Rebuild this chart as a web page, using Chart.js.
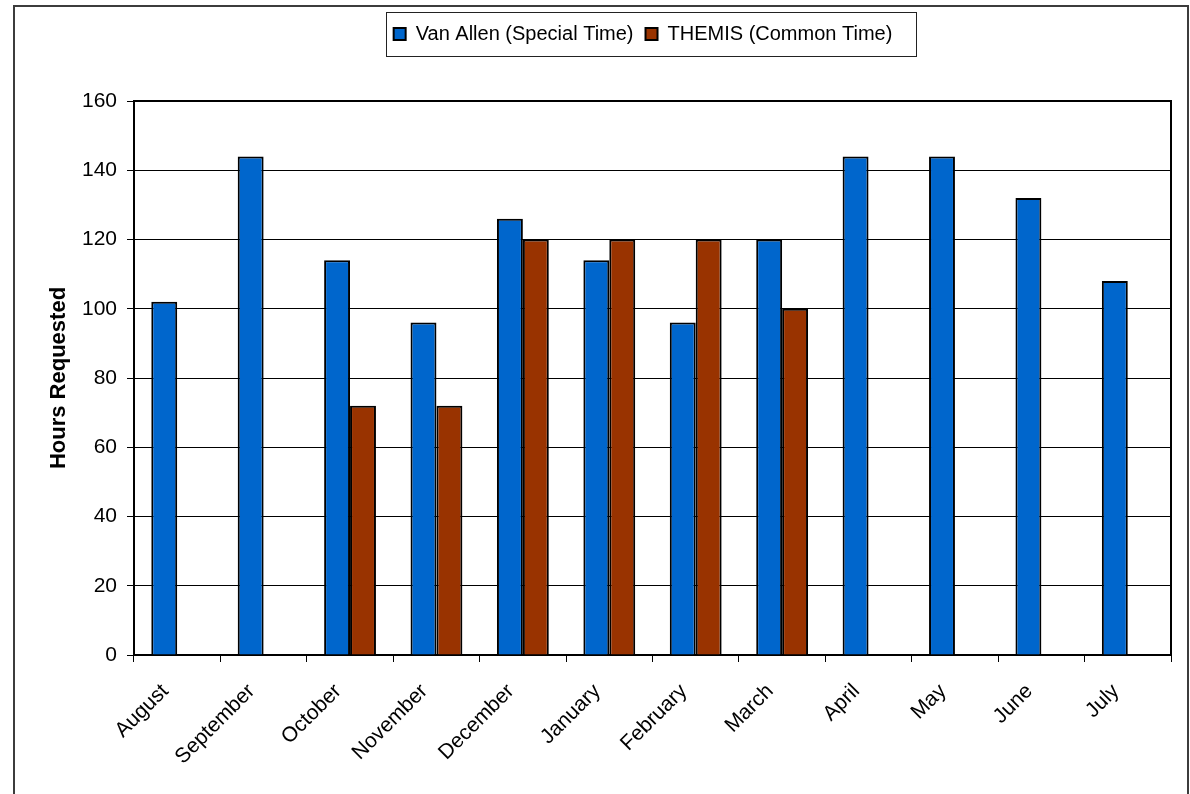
<!DOCTYPE html>
<html>
<head>
<meta charset="utf-8">
<script src="https://cdn.jsdelivr.net/npm/chart.js@4.4.1/dist/chart.umd.min.js"></script>
<style>
  html, body { margin: 0; padding: 0; background: #fff; }
  canvas { display: block; }
</style>
</head>
<body>
<canvas id="hours" width="1190" height="794"></canvas>
<script>
// Monthly requested hours per mission
const months = ['August', 'September', 'October', 'November', 'December', 'January',
                'February', 'March', 'April', 'May', 'June', 'July'];
const vanAllenHours = [102, 144, 114, 96, 126, 114, 96, 120, 144, 144, 132, 108];
const themisHours   = [null, null, 72, 72, 120, 120, 120, 100, null, null, null, null];
const seriesNames = ['Van Allen (Special Time)', 'THEMIS (Common Time)'];
const yAxisTitle = 'Hours Requested';
const yMin = 0;
const yMax = 160;
const yStep = 20;

const FONT = '"Liberation Sans", Arial, sans-serif';
Chart.defaults.font.family = FONT;
Chart.defaults.color = '#000';

// Moves the legend row to the right of the page centre
const legendOffset = {
  id: 'legendOffset',
  afterLayout(chart) {
    const lg = chart.legend;
    if (!lg) return;
    lg.left += 50;
    lg.right += 50;
  }
};

// Page frame, legend frame and the top/right edges of the plot box
const frames = {
  id: 'frames',
  afterDraw(chart) {
    const ctx = chart.ctx;
    const a = chart.chartArea;
    ctx.save();
    // outer frame (open at the bottom)
    ctx.strokeStyle = '#3c3c3c';
    ctx.lineWidth = 2;
    ctx.beginPath();
    ctx.moveTo(14, chart.height);
    ctx.lineTo(14, 6);
    ctx.lineTo(1188, 6);
    ctx.lineTo(1188, chart.height);
    ctx.stroke();

    // plot box top and right edges
    ctx.strokeStyle = '#000';
    ctx.lineWidth = 2;
    ctx.beginPath();
    ctx.moveTo(a.left, a.top);
    ctx.lineTo(a.right, a.top);
    ctx.lineTo(a.right, a.bottom);
    ctx.stroke();

    // legend frame
    const hb = chart.legend && chart.legend.legendHitBoxes;
    if (hb && hb.length) {
      const first = hb[0];
      const last = hb[hb.length - 1];
      const x0 = Math.round(first.left - 8) + 0.5;
      const x1 = Math.round(last.left + last.width + 24) + 0.5;
      const y0 = Math.round(chart.legend.top) + 0.5;
      const y1 = Math.round(chart.legend.bottom) + 2.5;
      ctx.strokeStyle = '#222';
      ctx.lineWidth = 1;
      ctx.strokeRect(x0, y0, x1 - x0, y1 - y0);
    }
    ctx.restore();
  }
};

new Chart(document.getElementById('hours'), {
  type: 'bar',
  data: {
    labels: months,
    datasets: [
      {
        label: seriesNames[0],
        data: vanAllenHours,
        backgroundColor: '#0066CC',
        borderColor: '#000',
        borderWidth: 2,
        categoryPercentage: 0.6,
        barPercentage: 1.0
      },
      {
        label: seriesNames[1],
        data: themisHours,
        backgroundColor: '#993300',
        borderColor: '#000',
        borderWidth: 2,
        categoryPercentage: 0.6,
        barPercentage: 1.0
      }
    ]
  },
  options: {
    responsive: false,
    animation: false,
    devicePixelRatio: 1,
    layout: { padding: { left: 15, right: 19, top: 12, bottom: 0 } },
    plugins: {
      tooltip: { enabled: false },
      legend: {
        position: 'top',
        align: 'center',
        labels: {
          boxWidth: 12,
          boxHeight: 12,
          padding: 12,
          color: '#000',
          font: { size: 20, family: FONT }
        }
      },
      // empty spacer between the legend and the plot
      title: {
        display: true,
        text: '',
        weight: 500,
        font: { size: 10, lineHeight: 1 },
        padding: { top: 0, bottom: 37 }
      }
    },
    scales: {
      x: {
        offset: true,
        grid: {
          display: true,
          offset: true,
          drawOnChartArea: false,
          drawTicks: true,
          tickLength: 7,
          color: '#000',
          lineWidth: 1
        },
        border: { display: true, color: '#000', width: 2 },
        ticks: {
          minRotation: 45,
          maxRotation: 45,
          autoSkip: false,
          padding: 17,
          labelOffset: -12,
          color: '#000',
          font: { size: 21, family: FONT }
        },
        afterFit(scale) { scale.height = 139; }
      },
      y: {
        min: yMin,
        max: yMax,
        ticks: {
          stepSize: yStep,
          padding: 10,
          color: '#000',
          font: { size: 21, family: FONT }
        },
        grid: {
          color: '#000',
          lineWidth: 1,
          drawTicks: true,
          tickLength: 7
        },
        border: { display: true, color: '#000', width: 2 },
        title: {
          display: true,
          text: yAxisTitle,
          color: '#000',
          font: { size: 22, weight: 'bold', family: FONT },
          padding: { top: 31, bottom: 0 }
        },
        afterFit(scale) { scale.width = 119; }
      }
    }
  },
  plugins: [legendOffset, frames]
});
</script>
</body>
</html>
